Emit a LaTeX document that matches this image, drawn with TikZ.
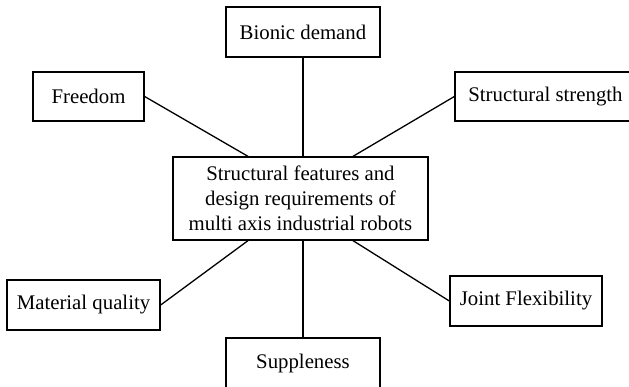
\documentclass[tikz,border=0pt]{standalone}
\usepackage{fontspec}
\setmainfont{Liberation Serif}
\usepackage{tikz}
\usetikzlibrary{positioning}
\tikzset{
  box/.style ={draw=black, line width=1.3pt, fill=white, inner sep=0pt,
               minimum height=50pt, font=\fontsize{20.8}{25}\selectfont},
  hub/.style ={box, minimum width=255pt, minimum height=83pt, align=center},
  link/.style={draw=black, line width=1.3pt},
}

\begin{document}
\begin{tikzpicture}[x=1pt,y=-1pt]
  \useasboundingbox (0,0) rectangle (629,387);

  % ---------------------------------------------------------------- hub
  \node[hub] (core) at (300.5,198.5)
        {Structural features and\\ design requirements of\\ multi axis industrial robots};

  % ---------------------------------------------------------------- upper boxes
  \node[box, minimum width=154pt] (bionic)   at (303,32)     {Bionic demand};
  \node[box, minimum width=111pt, minimum height=49pt] (free) at (88.5,96.5) {Freedom};
  \node[box, minimum width=181pt, minimum height=49pt] (strength) at (545.5,96.5) {Structural strength};

  % ---------------------------------------------------------------- lower boxes
  \node[box, minimum width=153pt] (material) at (83.5,305)   {Material quality};
  \node[box, minimum width=152pt] (joint)    at (526,301)    {Joint Flexibility};
  \node[box, minimum width=154pt] (supple)   at (303,363)    {Suppleness};

  % ---------------------------------------------------------------- links
  \draw[link] (bionic.south)   -- (bionic.south |- core.north);
  \draw[link] (free.east)      -- ([xshift=-52.5pt]core.north);
  \draw[link] (strength.west)  -- ([xshift=52.5pt]core.north);
  \draw[link] (material.east)  -- ([xshift=-52.5pt]core.south);
  \draw[link] (joint.west)     -- ([xshift=52.5pt]core.south);
  \draw[link] (supple.north |- core.south) -- (supple.north);
\end{tikzpicture}
\end{document}
